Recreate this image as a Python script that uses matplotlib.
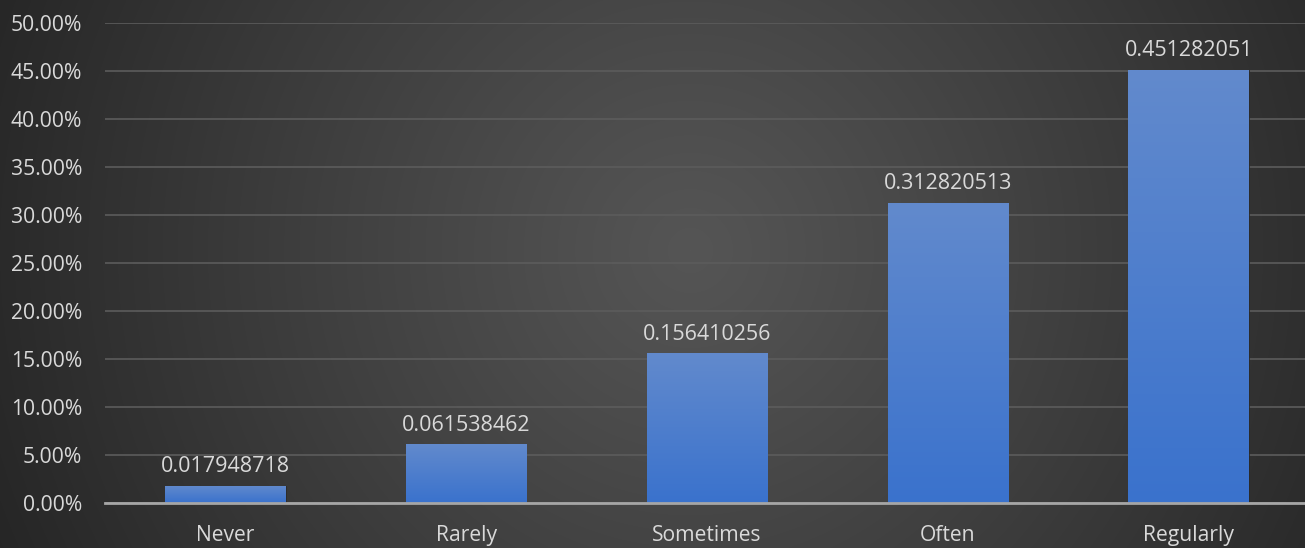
import numpy as np
import matplotlib
matplotlib.use("Agg")
import matplotlib.pyplot as plt
from matplotlib.ticker import FuncFormatter, MultipleLocator

categories = ["Never", "Rarely", "Sometimes", "Often", "Regularly"]
shares = [0.017948718, 0.061538462, 0.156410256, 0.312820513, 0.451282051]
value_labels = ["0.017948718", "0.061538462", "0.156410256", "0.312820513", "0.451282051"]

W, H = 1305, 548
fig = plt.figure(figsize=(W / 100, H / 100), dpi=100)

# radial dark background
bg = fig.add_axes([0, 0, 1, 1])
bg.set_axis_off()
yy, xx = np.mgrid[0:H, 0:W]
cx, cy = 690, 250
r = np.hypot(xx - cx, (yy - cy) * 1.0)
r = r / np.hypot(cx, H - cy + 60)
inner = np.array([0x55, 0x55, 0x55]) / 255
outer = np.array([0x24, 0x24, 0x24]) / 255
t = np.clip(r, 0, 1)[..., None] ** 1.1
img = inner * (1 - t) + outer * t
bg.imshow(img, extent=[0, 1, 0, 1], aspect="auto", origin="upper")
bg.set_xlim(0, 1)
bg.set_ylim(0, 1)

ax = fig.add_axes([105 / W, 45 / H, 1204 / W, 480 / H])
ax.patch.set_alpha(0)
x = np.arange(len(categories))
bars = ax.bar(x, shares, width=0.5, color="none", edgecolor="none", zorder=3)

# vertical gradient fill for each bar
grad = np.linspace(0, 1, 256)[:, None, None]
top_c = np.array([0x62, 0x8a, 0xcd]) / 255
bot_c = np.array([0x3a, 0x72, 0xcc]) / 255
gimg = top_c * (1 - grad) + bot_c * grad
for b, v in zip(bars, shares):
    x0 = b.get_x()
    im = ax.imshow(gimg, extent=[x0, x0 + b.get_width(), 0, v], aspect="auto",
                   origin="upper", zorder=3)
    im.set_clip_path(b)
    ax.bar(b.get_x() + b.get_width() / 2, v, width=b.get_width(), color="none",
           edgecolor="#2a2a2a", linewidth=0.6, zorder=2.9)

for xi, v, lab in zip(x, shares, value_labels):
    ax.annotate(lab, (xi, v), xytext=(0, 6), textcoords="offset points",
                ha="center", va="bottom", color="#d9d9d9", fontsize=15.5,
                family="Open Sans")

ax.set_xlim(-0.5, len(categories) - 0.5)
ax.set_ylim(0, 0.5)
ax.yaxis.set_major_locator(MultipleLocator(0.05))
ax.yaxis.set_major_formatter(FuncFormatter(lambda v, p: f"{v * 100:.2f}%"))
ax.set_xticks(x)
ax.set_xticklabels(categories)
for lab in ax.get_xticklabels() + ax.get_yticklabels():
    lab.set_family("Open Sans")
    lab.set_fontsize(15.2)
    lab.set_color("#d9d9d9")
ax.tick_params(axis="both", length=0)
ax.tick_params(axis="y", pad=16.5)
ax.tick_params(axis="x", pad=16)
ax.grid(axis="y", color="#5c5c5c", linewidth=1.2, zorder=1)
ax.set_axisbelow(True)
for s in ["top", "right", "left"]:
    ax.spines[s].set_visible(False)
ax.spines["bottom"].set_color("#a6a6a6")
ax.spines["bottom"].set_linewidth(2)
ax.spines["bottom"].set_zorder(4)

fig.savefig("out.png", dpi=100)
